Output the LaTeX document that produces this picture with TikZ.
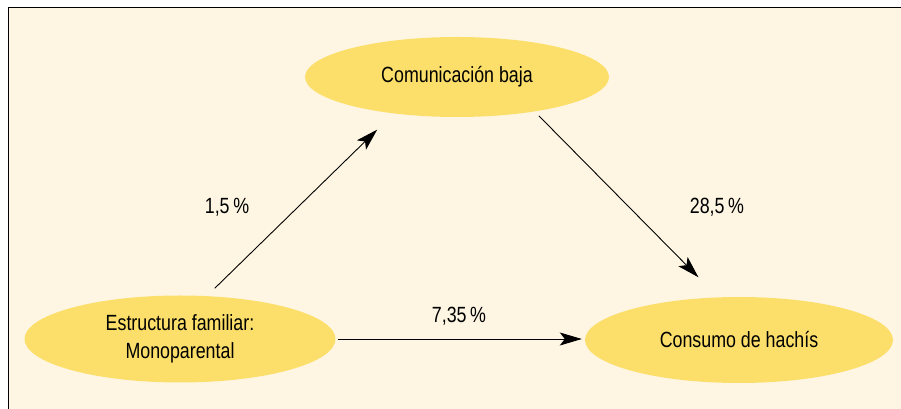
\documentclass[tikz,border=0pt]{standalone}
\usepackage{fontspec}
\setmainfont{Liberation Sans}[FakeStretch=0.81]
\usepackage{tikz}
\usetikzlibrary{arrows.meta}
\usetikzlibrary{shapes.geometric}
\definecolor{paper}{HTML}{FEF6E3}
\definecolor{yolk}{HTML}{FCDF6A}
\tikzstyle{arrow} = [line width=0.9pt,->,>={Stealth[length=22pt,width=13pt,inset=5pt]}]
\tikzstyle{blob} = [ellipse, fill=yolk, inner sep=0pt, align=center, font=\fontsize{22}{28}\selectfont]

\begin{document}
\begin{tikzpicture}[x=1pt,y=1pt]
\useasboundingbox (0,0) rectangle (901,409);
\fill [paper] (8.5,0) rectangle (901,401.5);
\draw [line width=1.3pt] (8.5,0) -- (8.5,401.5) -- (901,401.5);

\node [blob, minimum width=304, minimum height=80] (com) at (457,332) {Comunicación baja};
\node [blob, minimum width=311, minimum height=87] (est) at (180,70) {Estructura familiar:\\Monoparental};
\node [blob, minimum width=308, minimum height=86] (cons) at (739,69) {Consumo de hachís};

\node [font=\fontsize{22}{28}\selectfont] (p1) at (227,202) {1,5\,\%};
\node [font=\fontsize{22}{28}\selectfont] (p2) at (717,202) {28,5\,\%};
\node [font=\fontsize{22}{28}\selectfont] (p3) at (459,93) {7,35\,\%};

\draw [arrow, shorten <=11pt, shorten >=23pt] (est.58) to (com.210);
\draw [arrow, shorten <=6pt, shorten >=28pt] (com.336) to (cons.116);
\draw [arrow, shorten <=2pt, shorten >=3pt] (est.east) to (est.east -| cons.west);
\end{tikzpicture}
\end{document}
